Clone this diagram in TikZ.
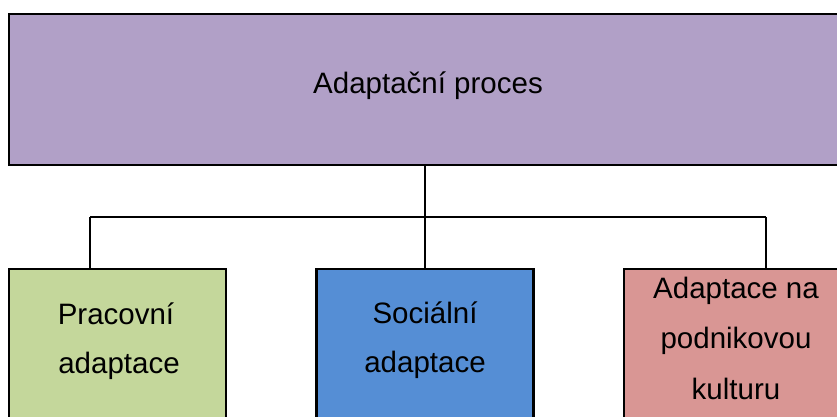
\documentclass[tikz,border=0pt]{standalone}
\usepackage{fontspec}
\setmainfont{Liberation Sans}
\definecolor{cpurple}{RGB}{177,160,199}
\definecolor{cgreen}{RGB}{196,215,155}
\definecolor{cblue}{RGB}{85,142,213}
\definecolor{cpink}{RGB}{217,150,148}
\tikzset{
  boxstyle/.style={draw=black, line width=2.2pt, rectangle, inner sep=0pt},
  txt/.style={anchor=base, inner sep=0pt, font=\fontsize{29.5}{35}\selectfont},
  conn/.style={draw=black, line width=1.6pt}
}
\begin{document}
\begin{tikzpicture}[x=1pt,y=-1pt]
\clip (0,0) rectangle (837,416);
\fill[white] (0,0) rectangle (837,416);
% boxes
\node[boxstyle, fill=cpurple, minimum width=832pt, minimum height=151pt] (top) at (425,89.5) {};
\node[boxstyle, fill=cgreen, minimum width=217pt, minimum height=180pt] (b1) at (117.5,359) {};
\node[boxstyle, fill=cblue, minimum width=217pt, minimum height=180pt] (b2) at (425,359) {};
\node[boxstyle, fill=cpink, minimum width=218pt, minimum height=180pt] (b3) at (733,359) {};
% texts
\node[txt] (t0) at (428,93) {Adaptační proces};
\node[txt] (t1a) at (116,324) {Pracovní};
\node[txt] (t1b) at (119,373) {adaptace};
\node[txt] (t2a) at (425,323) {Sociální};
\node[txt] (t2b) at (425,372) {adaptace};
\node[txt] (t3a) at (736,298) {Adaptace na};
\node[txt] (t3b) at (736,348) {podnikovou};
\node[txt] (t3c) at (736,399) {kulturu};
% connectors
\coordinate (busL) at (90,217);
\coordinate (busR) at (766,217);
\draw[conn] (top.south) -- (top.south |- busL);
\draw[conn] (busL) -- (busR);
\draw[conn] (busL) -- (busL |- b1.north);
\draw[conn] (top.south |- busL) -- (b2.north);
\draw[conn] (busR) -- (busR |- b3.north);
\end{tikzpicture}
\end{document}
